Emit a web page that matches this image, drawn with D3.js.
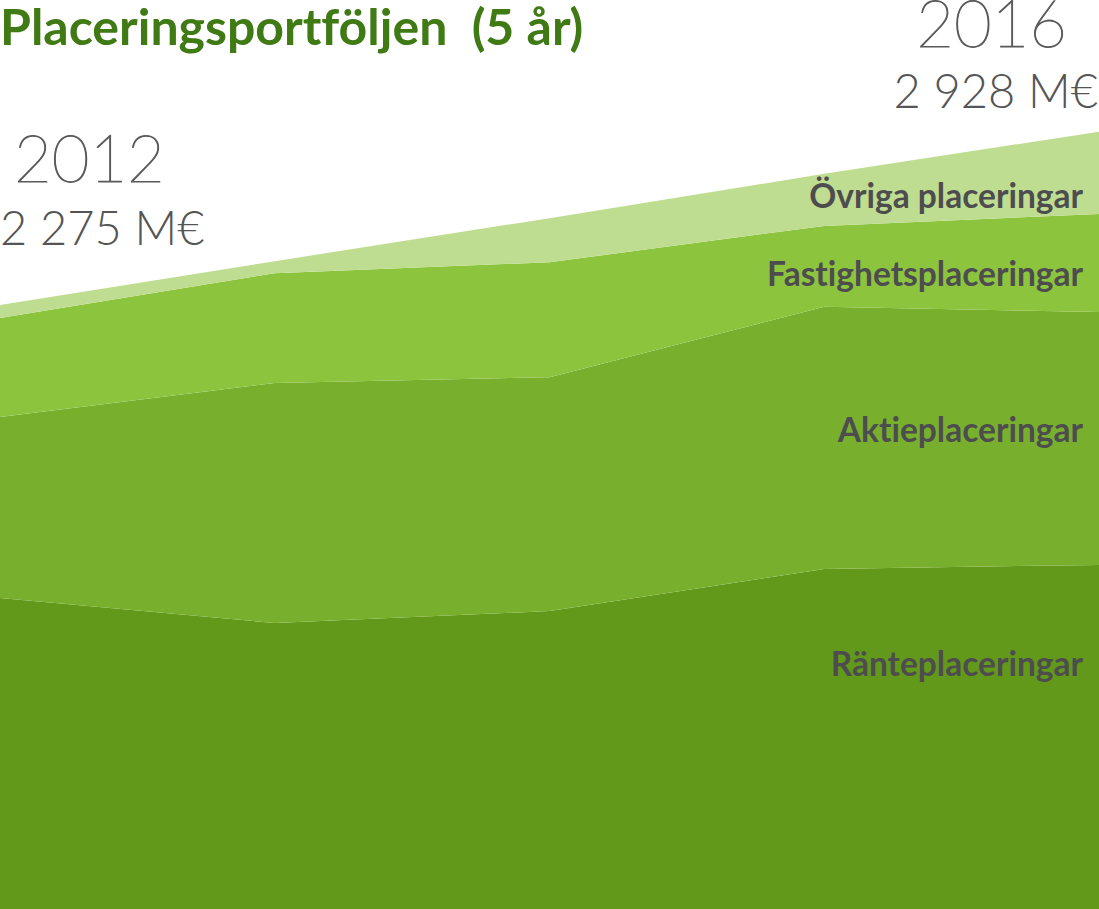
<!DOCTYPE html>
<html>
<head>
<meta charset="utf-8">
<script src="https://cdn.jsdelivr.net/npm/d3@7"></script>
<style>
  html, body { margin: 0; padding: 0; background: #fff; overflow: hidden; }
  svg { display: block; font-family: Lato, "Noto Sans", sans-serif; font-variant-ligatures: none; }
</style>
</head>
<body>
<div id="chart"></div>
<script>
// years on the x axis
const years = [2012, 2013, 2014, 2015, 2016];

// portfolio parts, M€
const rante     = [1171, 1077, 1122, 1281, 1296];
const aktier    = [682, 904, 881, 987, 953];
const fastighet = [373, 414, 433, 305, 369];
const ovriga    = [49, 45, 166, 196, 310];

const seriesNames = ["Ränteplaceringar", "Aktieplaceringar", "Fastighetsplaceringar", "Övriga placeringar"];
const totalLabels = ["2 275 M€", "2 928 M€"];

const width = 1099, height = 909;

const svg = d3.select("#chart")
    .append("svg")
    .attr("width", width)
    .attr("height", height);

// build rows for the stack
const keys = ["rante", "aktier", "fastighet", "ovriga"];
const rows = years.map((y, i) => ({
    year: y,
    rante: rante[i],
    aktier: aktier[i],
    fastighet: fastighet[i],
    ovriga: ovriga[i]
}));

const stacked = d3.stack().keys(keys)(rows);

const x = d3.scalePoint()
    .domain(years)
    .range([0, width]);

// 0 sits on the bottom edge, 2275 lands at y=305
const pxPerUnit = (height - 305) / 2275;
const y = d3.scaleLinear()
    .domain([0, 2928])
    .range([height, height - 2928 * pxPerUnit]);

const colour = d3.scaleOrdinal()
    .domain(keys)
    .range(["#63991a", "#78b02e", "#8cc43e", "#bfdd90"]);

const area = d3.area()
    .x(d => x(d.data.year))
    .y0(d => y(d[0]))
    .y1(d => y(d[1]));

svg.append("g")
    .selectAll("path")
    .data(stacked)
    .enter()
    .append("path")
    .attr("fill", d => colour(d.key))
    .attr("d", area);

// series labels, right aligned
const labelY = [676, 442, 286, 208];
svg.append("g")
    .selectAll("text")
    .data(seriesNames)
    .enter()
    .append("text")
    .attr("x", 1083)
    .attr("y", (d, i) => labelY[i])
    .attr("text-anchor", "end")
    .attr("font-size", "33.5px")
    .attr("font-weight", 700)
    .attr("fill", "#4d4d4f")
    .text(d => d);

// title
svg.append("text")
    .attr("x", 0)
    .attr("y", 45)
    .attr("font-size", "50px")
    .attr("font-weight", 700)
    .attr("fill", "#3f7a14")
    .attr("xml:space", "preserve")
    .style("white-space", "pre")
    .text("Placeringsportföljen  (5 år)");

// start and end totals - thin year numbers get a hairline stroke to thicken a bit
svg.append("text")
    .attr("x", 14)
    .attr("y", 182)
    .attr("font-size", "65px")
    .attr("font-weight", 100)
    .attr("fill", "#5a5a5a")
    .attr("stroke", "#5a5a5a")
    .attr("stroke-width", 1.1)
    .text(years[0]);

svg.append("text")
    .attr("x", 0)
    .attr("y", 245)
    .attr("font-size", "47px")
    .attr("font-weight", 300)
    .attr("fill", "#555")
    .text(totalLabels[0]);

svg.append("text")
    .attr("x", 1067)
    .attr("y", 47)
    .attr("text-anchor", "end")
    .attr("font-size", "65px")
    .attr("font-weight", 100)
    .attr("fill", "#5a5a5a")
    .attr("stroke", "#5a5a5a")
    .attr("stroke-width", 1.1)
    .text(years[years.length - 1]);

svg.append("text")
    .attr("x", 1098)
    .attr("y", 108)
    .attr("text-anchor", "end")
    .attr("font-size", "47px")
    .attr("font-weight", 300)
    .attr("fill", "#555")
    .text(totalLabels[1]);
</script>
</body>
</html>
